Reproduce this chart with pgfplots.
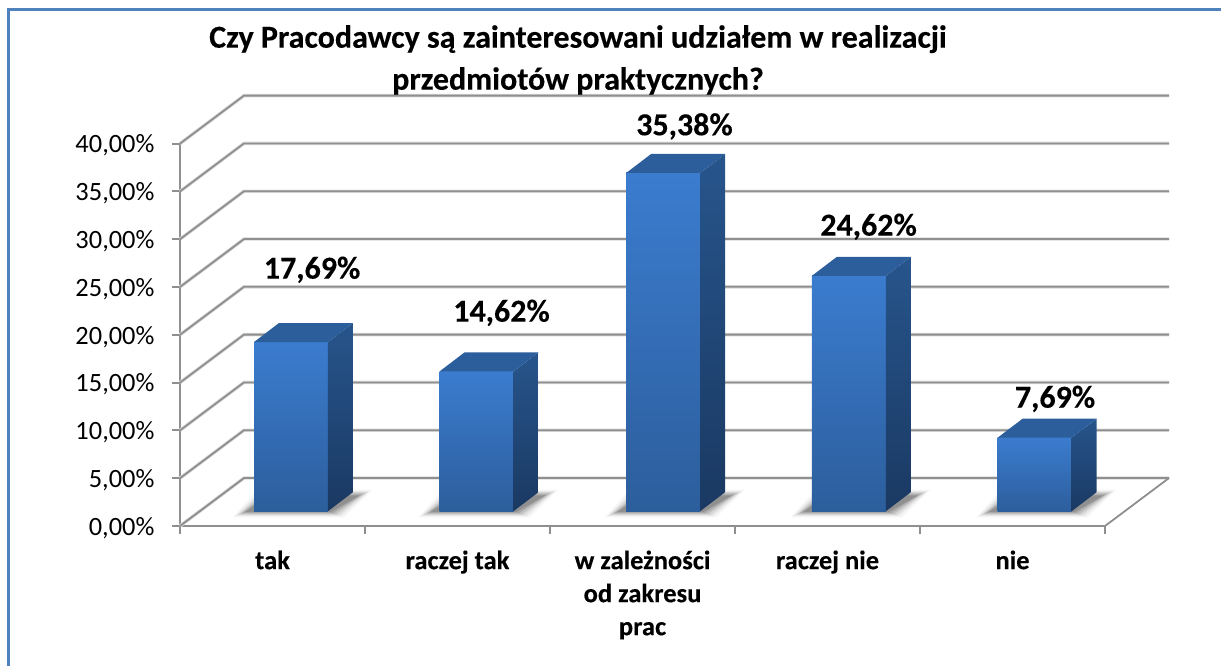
\documentclass[border=0pt]{standalone}
\usepackage{fontspec}
\setmainfont{Carlito}[BoldFeatures={FakeBold=0.25}]
\usepackage{pgfplots}
\pgfplotsset{compat=1.18}
\definecolor{frameblue}{HTML}{4F81BD}
\definecolor{gridgray}{HTML}{8F8F8F}
\definecolor{halo}{HTML}{DADADA}
\definecolor{ftop}{HTML}{3B7CCF}
\definecolor{fbot}{HTML}{2C5E9C}
\definecolor{stop}{HTML}{27558C}
\definecolor{sbot}{HTML}{1A3962}
\definecolor{ttop}{HTML}{2B5E9B}
\newcommand{\wall}[2]{%
  \addplot[halo,line width=3.4pt,no marks,forget plot] coordinates {(0,#1) (0.346,#2) (5.346,#2)};
  \addplot[gridgray,line width=1.8pt,no marks,forget plot] coordinates {(0,#1) (0.346,#2) (5.346,#2)};
}
\newcommand{\shadowlayer}[4]{% x, grow in x, grow in y, opacity
  \pgfmathsetmacro{\sa}{#1-0.045-#2}\pgfmathsetmacro{\sb}{#1+0.415+#2}\pgfmathsetmacro{\sc}{#1+0.57+#2}\pgfmathsetmacro{\sd}{#1+0.09-#2}%
  \pgfmathsetmacro{\sy}{1.5-#3}\pgfmathsetmacro{\sz}{3.2+#3}%
  \addplot[fill=black,fill opacity=#4,draw=none,forget plot] coordinates {(\sa,\sy) (\sb,\sy) (\sc,\sz) (\sd,\sz)} --cycle;
}
\newcommand{\threeDbar}[2]{%
  \pgfmathsetmacro{\xa}{#1}\pgfmathsetmacro{\xb}{#1+0.400}\pgfmathsetmacro{\xc}{#1+0.535}\pgfmathsetmacro{\xd}{#1+0.135}%
  \pgfmathsetmacro{\yt}{1.55+#2}\pgfmathsetmacro{\yu}{1.55+#2+1.99}%
  \pgfmathsetmacro{\yb}{1.55}\pgfmathsetmacro{\yc}{3.54}%
  \shadowlayer{#1}{0.070}{0.60}{0.04}
  \shadowlayer{#1}{0.055}{0.45}{0.06}
  \shadowlayer{#1}{0.042}{0.34}{0.08}
  \shadowlayer{#1}{0.029}{0.23}{0.10}
  \shadowlayer{#1}{0.016}{0.12}{0.12}
  \shadowlayer{#1}{0.003}{0.01}{0.14}
  \addplot[top color=ftop,bottom color=fbot,draw=none,forget plot] coordinates {(\xa,\yb) (\xb,\yb) (\xb,\yt) (\xa,\yt)} --cycle;
  \addplot[top color=stop,bottom color=sbot,draw=none,forget plot] coordinates {(\xb,\yb) (\xc,\yc) (\xc,\yu) (\xb,\yt)} --cycle;
  \addplot[fill=ttop,draw=none,forget plot] coordinates {(\xa,\yt) (\xb,\yt) (\xc,\yu) (\xd,\yu)} --cycle;
}
\begin{document}
\begin{tikzpicture}[x=1pt,y=1pt]
\begin{axis}[
  at={(180pt,140pt)},anchor=origin,
  scale only axis,width=925pt,height=382.4pt,
  xmin=0,xmax=5,ymin=0,ymax=40,
  axis x line*=bottom,axis y line*=left,
  axis line style={gridgray,line width=2pt,-},
  clip=false,
  tick style={gridgray,line width=2pt},
  major tick length=8pt,
  tick align=outside,
  xtick={0,1,2,3,4,5},xticklabels={},
  extra x ticks={0.5,1.5,2.5,3.5,4.5},
  extra x tick labels={tak,raczej tak,w zależności\\od zakresu\\prac,raczej nie,nie},
  extra x tick style={major tick length=0pt,tick style={draw=none},
    tick label style={font=\fontsize{26.5}{33}\selectfont\bfseries,align=center,anchor=north,yshift=-21pt}},
  ytick={0,5,10,15,20,25,30,35,40},
  yticklabels={{0,00\%},{5,00\%},{10,00\%},{15,00\%},{20,00\%},{25,00\%},{30,00\%},{35,00\%},{40,00\%}},
  y tick label style={font=\fontsize{26.4}{30}\selectfont,anchor=east,xshift=-14pt,yshift=-2pt},
]
\wall{0}{5.02}\wall{5}{10.02}\wall{10}{15.02}\wall{15}{20.02}\wall{20}{25.02}
\wall{25}{30.02}\wall{30}{35.02}\wall{35}{40.02}\wall{40}{45.02}
\addplot[gridgray,line width=1.8pt,no marks,forget plot] coordinates {(5,0) (5.346,5.02)};
\threeDbar{0.400}{17.69}
\threeDbar{1.403}{14.62}
\threeDbar{2.412}{35.38}
\threeDbar{3.416}{24.62}
\threeDbar{4.420}{7.69}
\node[font=\fontsize{32}{36}\selectfont\bfseries] at (axis cs:0.714,26.8) {17,69\%};
\node[font=\fontsize{32}{36}\selectfont\bfseries] at (axis cs:1.738,22.3) {14,62\%};
\node[font=\fontsize{32}{36}\selectfont\bfseries] at (axis cs:2.727,41.8) {35,38\%};
\node[font=\fontsize{32}{36}\selectfont\bfseries] at (axis cs:3.722,31.3) {24,62\%};
\node[font=\fontsize{32}{36}\selectfont\bfseries] at (axis cs:4.730,13.3) {7,69\%};
\end{axis}
\path[use as bounding box] (0,0) rectangle (1221pt,666pt);
\draw[frameblue,line width=3pt] (8pt,0) -- (8pt,656pt) -- (1221pt,656pt);
\node[font=\fontsize{32}{42}\selectfont\bfseries,align=center] at (578pt,606pt) {Czy Pracodawcy są zainteresowani udziałem w realizacji\\przedmiotów praktycznych?};
\end{tikzpicture}
\end{document}
